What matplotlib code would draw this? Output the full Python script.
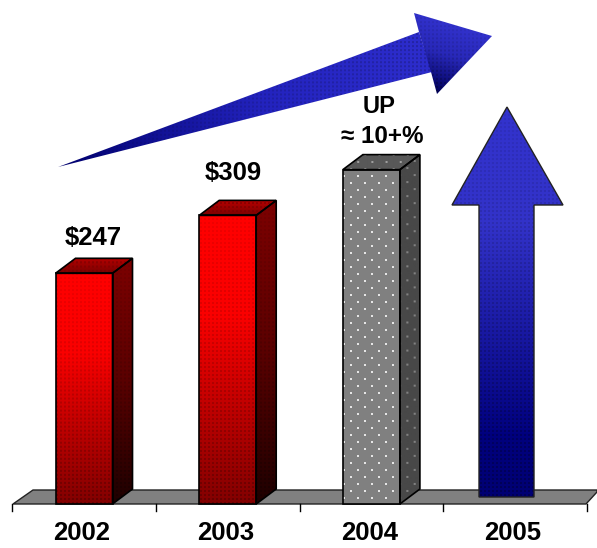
"""
Revenue by year as fake 3D columns, with two big outlook arrows
"""

import numpy as np
import matplotlib
matplotlib.use('Agg')
import matplotlib.pyplot as plt
from matplotlib.colors import LinearSegmentedColormap
from matplotlib.patches import Polygon

years = ['2002', '2003', '2004', '2005']
year_pos = [0, 1, 2, 3]
actual_values = [247, 309]
estimate_2004 = 358
arrow_2005_top = 425
value_labels = ['$247', '$309']
estimate_labels = ['UP', '\u2248 10+%']

WIDTH, HEIGHT = 597, 548
PITCH = 143.7       # pixels per category
SCALE = 0.934       # pixels per value unit
X0, Y0 = 84, 504    # pixel position of category 0, value 0


def px(points):
    # pixel points measured from the top left -> data coordinates
    points = np.asarray(points, dtype=float)
    return np.column_stack([(points[:, 0] - X0) / PITCH, (Y0 - points[:, 1]) / SCALE])


def shade(ax, verts, stops, direction=(0, 1), dots=0.0, spots=None, edge=None, lw=1.2, zorder=2):

    """
    Fills a polygon with a gradient, clipped through an image.

    verts are in data coordinates, direction is in screen space and points
    from the first colour stop to the last. dots darkens a fine halftone grid,
    spots brightens a staggered stipple by the given factor.
    """

    verts = np.asarray(verts, dtype=float)
    screen = ax.transData.transform(verts)
    lo = np.floor(screen.min(axis=0)).astype(int)
    hi = np.ceil(screen.max(axis=0)).astype(int)
    xx, yy = np.meshgrid(np.arange(lo[0], hi[0]), np.arange(lo[1], hi[1]))

    d = np.array(direction, dtype=float)
    d = d / np.linalg.norm(d)
    proj = xx * d[0] + yy * d[1]
    corners = screen @ d
    t = np.clip((proj - corners.min()) / (corners.max() - corners.min()), 0, 1)

    cmap = LinearSegmentedColormap.from_list('fill', [(p, np.array(c) / 255) for p, c in stops])
    rgb = cmap(t)[:, :, :3]

    if dots:
        grid = (xx % 4 < 2) & (yy % 4 < 2)
        rgb[grid] *= (1 - dots * (0.25 + 0.75 * t[grid]))[:, None]
    if spots is not None:
        mask = ((xx % 14 < 2) & (yy % 14 < 2)) | (((xx + 7) % 14 < 2) & ((yy + 7) % 14 < 2))
        rgb[mask] = np.clip(rgb[mask] * spots, 0, 1)

    corner_lo = ax.transData.inverted().transform(lo)
    corner_hi = ax.transData.inverted().transform(hi)
    img = ax.imshow(rgb, origin='lower', aspect='auto', interpolation='bilinear', zorder=zorder,
                    extent=(corner_lo[0], corner_hi[0], corner_lo[1], corner_hi[1]))
    clip = Polygon(verts, closed=True, transform=ax.transData)
    img.set_clip_path(clip)
    if edge is not None:
        ax.add_patch(Polygon(verts, closed=True, fill=False, edgecolor=edge, linewidth=lw, zorder=zorder + 0.1))


def column(ax, pos, value, half, front, side, top, **kwargs):

    """
    Draws one 3D column from its value: front, side and top faces.
    """

    depth_x, depth_y = 20 / PITCH, 15 / SCALE
    left, right = pos - half, pos + half
    shade(ax, [(left, 0), (right, 0), (right, value), (left, value)], front, direction=(0, -1),
          edge='black', zorder=3, **kwargs)
    shade(ax, [(right, 0), (right + depth_x, depth_y), (right + depth_x, value + depth_y), (right, value)],
          side, direction=(0, -1), edge='black', zorder=3, **kwargs)
    shade(ax, [(left, value), (right, value), (right + depth_x, value + depth_y), (left + depth_x, value + depth_y)],
          top, direction=(0, 1), edge='black', zorder=3, **kwargs)


if __name__ == '__main__':
    plt.rcParams['font.family'] = ['Liberation Sans', 'DejaVu Sans']

    fig = plt.figure(figsize=(WIDTH / 100, HEIGHT / 100), dpi=100, facecolor='white')
    ax = fig.add_axes([0, 0, 1, 1])
    ax.set_xlim(-X0 / PITCH, (WIDTH - X0) / PITCH)
    ax.set_ylim(-(HEIGHT - Y0) / SCALE, Y0 / SCALE)
    ax.axis('off')

    # grey floor and the category separators under it
    floor = px([(13, 504), (33, 490), (597, 490), (597, 492), (586, 504)])
    ax.add_patch(Polygon(floor, closed=True, facecolor='#808080', edgecolor='#222222', linewidth=1.0, zorder=1))
    for i in range(len(years) + 1):
        tick_x = i - 0.5
        ax.plot([tick_x, tick_x], [0, -7 / SCALE], color='black', linewidth=1.0, zorder=1)

    red_front = [(0, (255, 0, 0)), (0.35, (250, 0, 0)), (1, (130, 0, 0))]
    red_side = [(0, (125, 0, 0)), (0.5, (90, 0, 0)), (1, (30, 0, 0))]
    red_top = [(0, (125, 0, 0)), (1, (185, 0, 0))]
    half_width = 28.5 / PITCH

    label_x = [9, 6]
    label_gap = [35, 42]
    for pos, value, label, dx, gap in zip(year_pos, actual_values, value_labels, label_x, label_gap):
        column(ax, pos, value, half_width, red_front, red_side, red_top, dots=0.22)
        ax.text(pos + dx / PITCH, value + gap / SCALE, label, ha='center', va='center',
                fontsize=18.5, fontweight='bold', color='black', zorder=5)

    # 2004 is only an estimate, so it gets the stippled grey column
    column(ax, year_pos[2], estimate_2004, half_width,
           [(0, (128, 128, 128)), (1, (128, 128, 128))],
           [(0, (72, 72, 72)), (1, (72, 72, 72))],
           [(0, (88, 88, 88)), (1, (88, 88, 88))],
           spots=1.8)
    ax.text(2 + 8 / PITCH, estimate_2004 + 63 / SCALE, estimate_labels[0], ha='center', va='center',
            fontsize=17, fontweight='bold', zorder=5)
    ax.text(2 + 11 / PITCH, estimate_2004 + 33 / SCALE, estimate_labels[1], ha='center', va='center',
            fontsize=17.5, fontweight='bold', zorder=5)

    # upward arrow standing on the 2005 slot, tip at arrow_2005_top
    tip_y = Y0 - arrow_2005_top * SCALE
    up_arrow = px([(479, 497), (534, 497), (534, 205), (563, 205), (507, tip_y), (452, 205), (479, 205)])
    shade(ax, up_arrow,
          [(0, (50, 50, 205)), (0.3, (50, 50, 200)), (0.85, (0, 0, 125)), (1, (0, 0, 115))],
          direction=(0, -1), dots=0.25, edge='#222222', lw=1.0, zorder=3)

    # long trend arrow across the top, shaft first and then the head over it
    shaft = px([(58, 167), (419, 32), (432, 72)])
    shade(ax, shaft, [(0, (0, 0, 110)), (0.55, (35, 35, 190)), (1, (45, 45, 205))],
          direction=(374, 110), dots=0.2, zorder=3)
    head = px([(414, 13), (492, 36), (437, 94), (431, 72), (419, 32)])
    shade(ax, head, [(0, (50, 50, 205)), (0.45, (40, 40, 185)), (1, (0, 0, 90))],
          direction=(-25, -80), dots=0.25, zorder=3)

    for pos, year in zip(year_pos, years):
        ax.text(pos - 2 / PITCH, -29 / SCALE, year, ha='center', va='center',
                fontsize=18.5, fontweight='bold', color='black')

    fig.savefig('out.png', dpi=100, facecolor='white')
